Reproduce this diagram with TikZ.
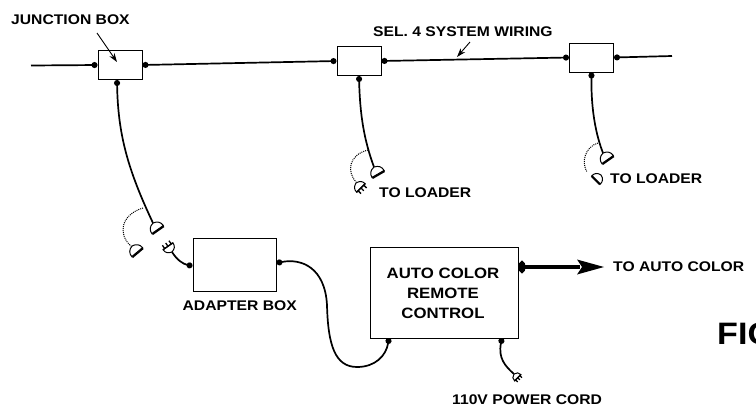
\documentclass[tikz,border=0pt]{standalone}
\usepackage{fontspec}
\usepackage{tikz}
\usetikzlibrary{arrows.meta, backgrounds}
\newfontfamily\wirefont[FakeStretch=1.12]{Liberation Sans Bold}
\newfontfamily\figfont[FakeStretch=1.1]{Liberation Sans Bold}
\tikzset{
  unitbox/.style={draw, line width=1pt, fill=white, inner sep=0pt},
  junction/.style={unitbox, minimum width=44pt, minimum height=29pt},
  caption/.style={font=\wirefont\fontsize{14}{16}\selectfont, inner sep=0pt, align=center},
  wire/.style={line width=1.7pt},
  cord/.style={line width=1.7pt, {Circle[length=6pt]}-},
  leader/.style={line width=0.9pt, -{Stealth[length=9pt, width=6pt]}},
  swing/.style={line width=1pt, densely dotted},
  plughead/.pic={
    \draw[line width=1pt, fill=white] (0,0) .. controls (1,-5) and (4,-7) .. (8,-7) -- (8,7) .. controls (4,7) and (1,5) .. (0,0) -- cycle;
    \draw[line width=1.6pt] (9,-7) -- (9,7);
  },
  prongs/.pic={
    \draw[line width=1pt, fill=white] (0,0) .. controls (1,-4) and (3,-6) .. (7,-6) -- (7,6) .. controls (3,6) and (1,4) .. (0,0) -- cycle;
    \draw[line width=1.3pt] (7,-6) -- (7,6) (7,-4) -- (11,-4) (7,0) -- (11,0) (7,4) -- (11,4);
  }
}

\begin{document}
\begin{tikzpicture}[x=1pt, y=-1pt]
  \useasboundingbox (0,0) rectangle (756,408);
  \clip (0,0) rectangle (756,408);

  % Junction boxes on the system wiring
  \node[junction] (boxA) at (120,65) {};
  \node[junction] (boxB) at (359,61) {};
  \node[junction] (boxC) at (591.5,57.5) {};
  \coordinate (lineStart) at (31,65.5);
  \coordinate (lineEnd) at (672,56);

  % Lower units
  \node[unitbox, minimum width=83pt, minimum height=53pt] (adapter) at (234.5,264.5) {};
  \node[unitbox, minimum width=148pt, minimum height=91pt] (remote) at (444,292.5) {};
  \node[caption, font=\wirefont\fontsize{15}{20}\selectfont] (remoteText) at (443,293) {AUTO COLOR\\REMOTE\\CONTROL};

  % Labels
  \node[caption, anchor=west] (junctionLabel) at (11,19.5) {JUNCTION BOX};
  \node[caption, anchor=west] (wiringLabel) at (373,31.5) {SEL. 4 SYSTEM WIRING};
  \node[caption, anchor=west] (loaderB) at (379,193) {TO LOADER};
  \node[caption, anchor=west] (loaderC) at (610,179) {TO LOADER};
  \node[caption, anchor=east] (adapterLabel) at (297,306) {ADAPTER BOX};
  \node[caption, anchor=west] (colorLabel) at (613,267) {TO AUTO COLOR};
  \node[caption, anchor=west] (cordLabel) at (452,400) {110V POWER CORD};
  \node[anchor=west, inner sep=0pt, font=\figfont\fontsize{31}{31}\selectfont] (figLabel) at (717,334) {FIG};

  % Plug ends of the cords
  \coordinate (plugA) at (153,223);
  \coordinate (plugB) at (374,167);
  \coordinate (plugC) at (603,153);
  \coordinate (plugD) at (172,252);
  \coordinate (plugE) at (514,374);
  \coordinate (leaderA) at (97,33);
  \coordinate (leaderATip) at (117,62);
  \coordinate (leaderB) at (470,42);
  \coordinate (leaderBTip) at (457,57);

  \begin{scope}[on background layer]
    % Main line
    \draw[wire, -{Circle[length=6pt]}] (lineStart) -- (boxA.west);
    \draw[wire, {Circle[length=6pt]}-{Circle[length=6pt]}] (boxA.east) -- (boxB.west);
    \draw[wire, {Circle[length=6pt]}-{Circle[length=6pt]}] (boxB.east) -- (boxC.west);
    \draw[wire, {Circle[length=6pt]}-] (boxC.east) -- (lineEnd);

    % Drop cords
    \draw[cord] (boxA.south -| 117,0) .. controls (118,135) and (128,170) .. (plugA);
    \draw[cord] (boxB.south) .. controls (360,115) and (364,140) .. (plugB);
    \draw[cord] (boxC.south) .. controls (591,110) and (596,135) .. (plugC);

    % Adapter and remote cables
    \draw[cord] (adapter.west |- 0,266) .. controls (183,264) and (177,260) .. (plugD);
    \draw[wire, {Circle[length=6pt]}-{Circle[length=6pt]}] (adapter.east |- 0,263)
      .. controls (302,258) and (325,268) .. (327,305)
      .. controls (328,345) and (335,367) .. (357,367)
      .. controls (375,367) and (386,356) .. (389,338);
    \draw[cord] (502,338) .. controls (498,358) and (505,366) .. (plugE);
    \draw[line width=4.5pt, {Circle[length=7pt, width=12pt]}-] (remote.east |- 0,267) -- (580,267);
    \fill (577,259.5) -- (604,267) -- (577,274.5) -- (582,267) -- cycle;
  \end{scope}

  % Leader arrows
  \draw[leader] (leaderA) -- (leaderATip);
  \draw[leader] (leaderB) -- (leaderBTip);

  % Swung positions of the plugs
  \draw[swing] (143,208) .. controls (120,215) and (118,235) .. (131,246);
  \draw[swing] (368,150) .. controls (348,155) and (347,172) .. (356,182);
  \draw[swing] (598,143) .. controls (585,147) and (581,162) .. (587,172);

  % Plugs
  \pic[rotate=-55] at (plugA) {plughead};
  \pic[rotate=-60] at (plugB) {plughead};
  \pic[rotate=-55] at (plugC) {plughead};
  \pic[rotate=125] at (plugD) {prongs};
  \pic[rotate=-50] at (132,246) {plughead};
  \pic[rotate=-45] at (356,183) {prongs};
  \pic[rotate=-135, scale=0.85] at (601,175) {plughead};
  \pic[rotate=-45, scale=0.75] at (plugE) {prongs};
\end{tikzpicture}
\end{document}
